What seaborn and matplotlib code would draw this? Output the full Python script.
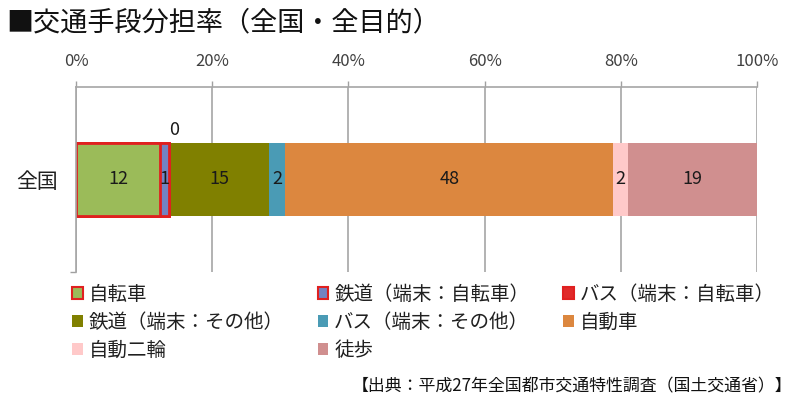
import matplotlib
matplotlib.use("Agg")
import matplotlib.pyplot as plt
from matplotlib.patches import Patch
import seaborn as sns
import numpy as np
import pandas as pd

# ---- data ----
category = "全国"
series = ["自転車", "鉄道（端末：自転車）", "バス（端末：自転車）",
          "鉄道（端末：その他）", "バス（端末：その他）", "自動車",
          "自動二輪", "徒歩"]
values = [12.3, 1.4, 0.0, 14.7, 2.3, 48.2, 2.2, 18.9]
labels = ["12", "1", "0", "15", "2", "48", "2", "19"]
xticks = [0, 20, 40, 60, 80, 100]
colors = ["#9BBB59", "#7383C2", "#E02A2A", "#808000", "#4A9BB5",
          "#DC873F", "#FFC9C9", "#D08F8F"]
red_edge = [True, True, True, False, False, False, False, False]

title = "■交通手段分担率（全国・全目的）"
source = "【出典：平成27年全国都市交通特性調査（国土交通省）】"

sns.set_theme(style="white")
plt.rcParams["font.family"] = ["Noto Sans CJK JP", "DejaVu Sans"]

fig = plt.figure(figsize=(8, 4.18), dpi=100)
ax = fig.add_axes([76/800, 1-272/418, (757-76)/800, (272-87)/418])

cum = np.cumsum(values)
df = pd.DataFrame({"series": series, "cum": cum, "cat": [category]*len(series)})

# stacked bars: draw cumulative totals from last to first
for i in reversed(range(len(series))):
    sub = df.iloc[[i]]
    sns.barplot(data=sub, x="cum", y="cat", orient="h", color=colors[i],
                saturation=1, width=0.395, ax=ax,
                edgecolor="#E02020" if red_edge[i] else "none",
                linewidth=2 if red_edge[i] else 0)

ax.set_xlim(0, 100)
ax.set_ylim(0.5, -0.5)

# data labels
lefts = cum - np.array(values)
for i, (l, v, t) in enumerate(zip(lefts, values, labels)):
    if v <= 0.05:
        ax.text(l + 0.7, -0.22, t, ha="center", va="bottom", fontsize=13,
                color="#1a1a1a")
    else:
        ax.text(l + v/2, 0, t, ha="center", va="center", fontsize=13,
                color="#1a1a1a")

# axes styling
ax.xaxis.tick_top()
ax.set_xticks(xticks)
ax.set_xticklabels([f"{x}%" for x in xticks], fontsize=12, color="#404040")
ax.tick_params(axis="x", which="major", top=True, bottom=False, length=4,
               width=1, color="#A0A0A0", pad=8)
ax.grid(axis="x", color="#A6A6A6", linewidth=1.2)
ax.set_axisbelow(True)
ax.set_xlabel("")
ax.set_ylabel("")
ax.tick_params(axis="y", length=0, pad=13)
ax.set_yticks([0])
ax.set_yticklabels([category], fontsize=15, color="#202020")
ax.set_yticks([0.5], minor=True)
ax.tick_params(axis="y", which="minor", left=True, length=4, color="#A0A0A0", width=1)
for s in ["right", "bottom"]:
    ax.spines[s].set_visible(False)
for s in ["top", "left"]:
    ax.spines[s].set_color("#A6A6A6")
    ax.spines[s].set_linewidth(1.2)

# title & source
fig.text(6/800, 1-23/418, title, fontsize=19.5, ha="left", va="center",
         color="#111111")
fig.text(792/800, 1-386/418, source, fontsize=12.2, ha="right", va="center",
         color="#111111")

# legend (row-major order in reference -> column-major for matplotlib)
handles = []
for i in range(len(series)):
    if red_edge[i]:
        handles.append(Patch(facecolor=colors[i], edgecolor="#E02020", linewidth=1.5,
                             label=series[i]))
    else:
        handles.append(Patch(facecolor=colors[i], edgecolor="none", label=series[i]))
order = [0, 3, 6, 1, 4, 7, 2, 5]
leg = fig.legend([handles[k] for k in order], [series[k] for k in order],
                 ncol=3, loc="upper left", bbox_to_anchor=(72/800, 1-284/418),
                 frameon=False, fontsize=14, handlelength=0.55, handleheight=0.55,
                 handletextpad=0.3, columnspacing=1.75, labelspacing=0.35,
                 borderpad=0, borderaxespad=0)
for t in leg.get_texts():
    t.set_color("#202020")

fig.savefig("out.png", dpi=100)
